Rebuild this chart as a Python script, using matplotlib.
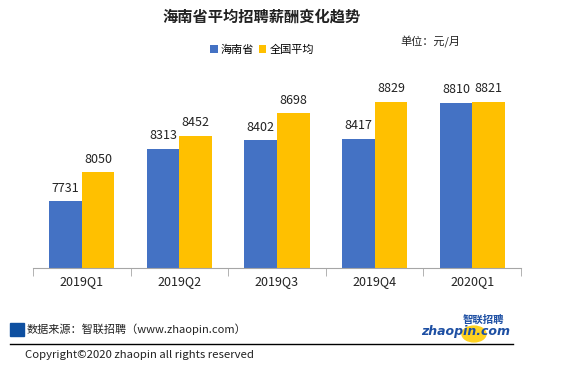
import matplotlib
matplotlib.use('Agg')
from matplotlib import pyplot as plt
from matplotlib.patches import Rectangle, Circle
import numpy as np

plt.rcParams['font.family'] = ['Noto Sans CJK SC', 'DejaVu Sans']

# data
quarters = ['2019Q1', '2019Q2', '2019Q3', '2019Q4', '2020Q1']
hainan = [7731, 8313, 8402, 8417, 8810]
national = [8050, 8452, 8698, 8829, 8821]

blue = '#4472C4'
yellow = '#FFC000'

fig = plt.figure(figsize=(5.63, 3.71), dpi=100)
W, H = 563, 371

# plot area in pixels: x 33..521, y 86..268
ax = fig.add_axes([33 / W, (H - 268) / H, (521 - 33) / W, (268 - 86) / H])
x = np.arange(len(quarters))
bw = 0.333
b1 = ax.bar(x - bw / 2, hainan, bw, color=blue, label='海南省')
b2 = ax.bar(x + bw / 2, national, bw, color=yellow, label='全国平均')
ax.set_ylim(7000, 9000)
ax.set_xlim(-0.5, len(quarters) - 0.5)

for rects, vals in ((b1, hainan), (b2, national)):
    for r, v in zip(rects, vals):
        ax.text(r.get_x() + r.get_width() / 2, v + 75, str(v),
                ha='center', va='bottom', fontsize=9, color='#222222')

for s in ['top', 'right', 'left']:
    ax.spines[s].set_visible(False)
ax.spines['bottom'].set_color('#a6a6a6')
ax.set_yticks([])
ax.set_xticks(x)
ax.set_xticklabels(quarters, fontsize=9, color='#222222')
ax.tick_params(axis='x', length=0, pad=5)
ax.set_xticks(np.arange(-0.5, len(quarters)), minor=True)
ax.tick_params(axis='x', which='minor', length=6, color='#a6a6a6', direction='out')

# title, legend, unit
fig.text(262 / W, 1 - 17 / H, '海南省平均招聘薪酬变化趋势', ha='center', va='center',
         fontsize=11, fontweight='bold', color='#222222')
fig.legend(handles=[b1, b2], loc='center', bbox_to_anchor=(262 / W, 1 - 50 / H),
           ncol=2, frameon=False, fontsize=8, handlelength=0.7, handleheight=0.7,
           handletextpad=0.3, columnspacing=0.4)
fig.text(400 / W, 1 - 42 / H, '单位：元/月', ha='left', va='center', fontsize=8, color='#222222')

# footer
fig.patches.append(Rectangle((10 / W, 1 - 336 / H), 14 / W, 13 / H, transform=fig.transFigure,
                             color='#0e4fa0'))
fig.text(27 / W, 1 - 329 / H, '数据来源：智联招聘（www.zhaopin.com）', ha='left', va='center',
         fontsize=8, color='#222222')
fig.add_artist(plt.Line2D([10 / W, 513 / W], [1 - 344 / H, 1 - 344 / H], color='black', lw=1,
                          transform=fig.transFigure))
fig.text(25 / W, 1 - 355 / H, 'Copyright©2020 zhaopin all rights reserved', ha='left', va='center',
         fontsize=8.2, color='#222222')

# logo
fig.patches.append(Circle((474 / W, 1 - 334 / H), 12 / W, transform=fig.transFigure,
                          color='#ffd21f', zorder=1))
fig.text(466 / W, 1 - 331 / H, 'zhaopin.com', ha='center', va='center', fontsize=9,
         fontweight='bold', style='italic', color='#1d4fa3', family='DejaVu Sans', zorder=2)
fig.text(483 / W, 1 - 320 / H, '智联招聘', ha='center', va='center', fontsize=7.5,
         fontweight='bold', style='italic', color='#1d4fa3', zorder=2)

plt.savefig('out.png', dpi=100)
